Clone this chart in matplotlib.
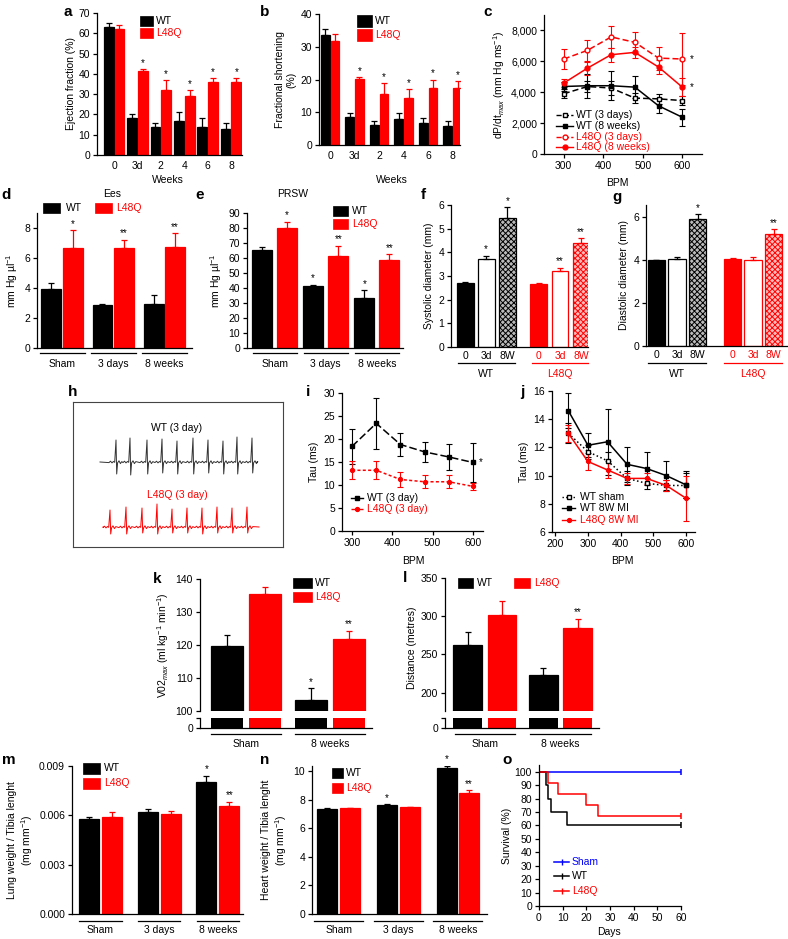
import matplotlib
matplotlib.use('Agg')
import matplotlib.pyplot as plt
from matplotlib.patches import Rectangle
from matplotlib.lines import Line2D
import matplotlib.transforms as mtransforms
import numpy as np

plt.rcParams['font.family'] = ['Liberation Sans', 'DejaVu Sans']
plt.rcParams['mathtext.fontset'] = 'custom'
plt.rcParams['mathtext.rm'] = 'Liberation Sans'
plt.rcParams['mathtext.it'] = 'Liberation Sans:italic'
plt.rcParams['font.size'] = 7.5
plt.rcParams['axes.linewidth'] = 0.9
plt.rcParams['hatch.linewidth'] = 0.7

RED = '#ff0000'
BLUE = '#0000ff'

# ---------------- data ----------------
# a / b
week_labels = ['0', '3d', '2', '4', '6', '8']
ef_wt = [63, 18, 14, 17, 14, 13]
ef_wt_sem = [2, 2, 2, 4, 4, 3]
ef_l48q = [62, 41.3, 32, 29, 36, 36]
ef_l48q_sem = [2, 1.2, 5, 3, 2, 2]
ef_stars = ['', '*', '*', '*', '*', '*']

fs_wt = [33.5, 8.5, 6.2, 7.8, 6.6, 5.8]
fs_wt_sem = [2.0, 1.2, 1.0, 1.9, 1.6, 1.4]
fs_l48q = [31.8, 20.2, 15.7, 14.4, 17.4, 17.4]
fs_l48q_sem = [2.2, 0.5, 3.3, 2.6, 2.6, 2.0]

# c
bpm_c = [300, 360, 420, 480, 540, 600]
dp_wt3d = [3900, 4370, 4270, 3620, 3570, 3460]
dp_wt3d_err = [300, 350, 450, 350, 330, 300]
dp_wt8w = [4370, 4420, 4420, 4330, 3120, 2380]
dp_wt8w_err = [300, 780, 950, 720, 480, 550]
dp_l3d = [6150, 6710, 7580, 7230, 6210, 6150]
dp_l3d_err = [620, 700, 700, 700, 750, 1700]
dp_l8w = [4590, 5560, 6430, 6580, 5630, 4330]
dp_l8w_err = [250, 420, 450, 380, 480, 600]

# d / e
group3 = ['Sham', '3 days', '8 weeks']
ees_wt = [3.9, 2.85, 2.9]
ees_wt_sem = [0.45, 0.05, 0.65]
ees_l48q = [6.65, 6.7, 6.75]
ees_l48q_sem = [1.2, 0.5, 0.9]
ees_stars = ['*', '**', '**']
prsw_wt = [65.5, 41, 33.5]
prsw_wt_sem = [1.5, 1.0, 5.0]
prsw_l48q = [80, 61, 58.5]
prsw_l48q_sem = [4, 7, 4]
prsw_wt_stars = ['', '*', '*']
prsw_l48q_stars = ['*', '**', '**']

# f / g
fg_labels = ['0', '3d', '8W']
sys_wt = [2.7, 3.72, 5.45]
sys_wt_sem = [0.04, 0.13, 0.45]
sys_l48q = [2.68, 3.2, 4.4]
sys_l48q_sem = [0.03, 0.15, 0.2]
sys_wt_stars = ['', '*', '*']
sys_l48q_stars = ['', '**', '**']
dia_wt = [3.98, 4.02, 5.92]
dia_wt_sem = [0.03, 0.13, 0.2]
dia_l48q = [4.05, 3.98, 5.22]
dia_l48q_sem = [0.03, 0.17, 0.2]
dia_wt_stars = ['', '', '*']
dia_l48q_stars = ['', '', '**']

# h (ECG spike times / amplitudes, pixel units inside the panel)
ecg_wt_beats = [116, 130, 147, 162, 177, 193, 208, 223, 237, 252]
ecg_wt_up = [22, 24, 22, 23, 21, 24, 22, 21, 25, 24]
ecg_wt_down = [12, 13, 12, 11, 12, 12, 11, 12, 12, 11]
ecg_l_beats = [110, 126, 142, 157, 172, 187, 202, 217, 232, 247]
ecg_l_up = [17, 20, 19, 23, 18, 19, 19, 20, 19, 20]
ecg_l_down = [7, 7, 6, 7, 6, 6, 7, 6, 6, 6]

# i
bpm_i = [300, 360, 420, 480, 540, 600]
tau_wt = [18.4, 23.4, 18.8, 17.2, 16.1, 14.9]
tau_wt_err = [3.8, 5.5, 2.4, 2.2, 2.8, 4.3]
tau_l = [13.2, 13.2, 11.2, 10.7, 10.7, 9.7]
tau_l_err = [2.0, 2.0, 1.6, 1.4, 1.4, 0.8]

# j
bpm_j = [240, 300, 360, 420, 480, 540, 600]
tj_sham = [13.0, 11.7, 11.05, 9.8, 9.45, 9.3, 9.3]
tj_sham_err = [0.7, 0.5, 0.6, 0.5, 0.4, 0.4, 0.9]
tj_wt8 = [14.6, 12.15, 12.4, 10.8, 10.5, 10.0, 9.35]
tj_wt8_err = [1.25, 0.85, 2.35, 1.25, 1.15, 1.0, 0.95]
tj_l8 = [13.0, 11.0, 10.4, 9.8, 9.8, 9.3, 8.4]
tj_l8_err = [0.6, 0.6, 0.6, 0.4, 0.4, 0.4, 1.6]

# k / l
group2 = ['Sham', '8 weeks']
vo2_wt = [119.7, 103.3]
vo2_wt_sem = [3.2, 3.6]
vo2_l48q = [135.5, 121.7]
vo2_l48q_sem = [2.1, 2.5]
dist_wt = [262, 222.8]
dist_wt_sem = [17, 9.7]
dist_l48q = [301, 284.5]
dist_l48q_sem = [18.7, 11.9]

# m / n
lung_wt = [0.00575, 0.0062, 0.0080]
lung_wt_sem = [0.00013, 0.0002, 0.0004]
lung_l48q = [0.0059, 0.0061, 0.00655]
lung_l48q_sem = [0.0003, 0.00015, 0.00025]
heart_wt = [7.35, 7.6, 10.2]
heart_wt_sem = [0.03, 0.06, 0.18]
heart_l48q = [7.4, 7.45, 8.45]
heart_l48q_sem = [0.03, 0.04, 0.22]

# o
sham_days = [0, 60]
sham_surv = [100, 100]
wt_days = [0, 3, 4, 5, 12, 60]
wt_surv = [100, 90, 80, 70, 60, 60]
l48q_days = [0, 4, 8, 20, 25, 60]
l48q_surv = [100, 91.7, 83.3, 75.0, 66.7, 66.7]

# ---------------- helpers ----------------
W, H = 788, 939
fig = plt.figure(figsize=(W / 100, H / 100), dpi=100)


def px_ax(l, t, r, b):
    return fig.add_axes([l / W, 1 - b / H, (r - l) / W, (b - t) / H])


def style(ax):
    for s in ['top', 'right']:
        ax.spines[s].set_visible(False)
    ax.tick_params(direction='out', length=3, width=0.9, pad=2, labelsize=7.5)


def ftext(x, y, s, **kw):
    kw.setdefault('ha', 'center')
    kw.setdefault('va', 'center')
    fig.text(x / W, 1 - y / H, s, **kw)


def letter(x, y, s):
    ftext(x, y, s, fontsize=11, fontweight='bold')


def bars(ax, x, vals, sems, color, width, ecolor=None, **kw):
    kw.setdefault('edgecolor', color)
    ax.bar(x, vals, width, color=color, lw=0.9, **kw)
    ax.errorbar(x, vals, yerr=[np.zeros(len(vals)), sems], fmt='none',
                ecolor=ecolor or color, elinewidth=0.9, capsize=2.2, capthick=0.9)


def stars(ax, x, vals, sems, marks, dy):
    for xi, v, s, m in zip(x, vals, sems, marks):
        if m:
            ax.text(xi, v + s + dy, m, ha='center', va='bottom', fontsize=7)


def group_lines(ax, centers, half, labels, yl, yt, colors=None):
    trans = mtransforms.blended_transform_factory(ax.transData, fig.transFigure)
    for i, (c, lab) in enumerate(zip(centers, labels)):
        col = colors[i] if colors else 'k'
        ax.plot([c - half, c + half], [1 - yl / H] * 2, transform=trans,
                color=col, lw=0.9, clip_on=False)
        ax.text(c, 1 - yt / H, lab, transform=trans, ha='center', va='center',
                fontsize=7.5, color=col)


def box_leg(x, y, w, h, color, label, tx=None, tcolor=None):
    fig.add_artist(Rectangle((x / W, 1 - (y + h / 2) / H), w / W, h / H,
                             transform=fig.transFigure, facecolor=color,
                             edgecolor=color, lw=0.5))
    ftext(tx if tx else x + w + 3, y, label, ha='left', color=tcolor or color)


def line_leg(x0, x1, y, label, tx, color='k', lw=1, ls='-', marker=None, ms=3.5,
             mfc=None, mew=1.0):
    fig.add_artist(Line2D([x0 / W, x1 / W], [1 - y / H] * 2, transform=fig.transFigure,
                          color=color, lw=lw, ls=ls))
    if marker:
        fig.add_artist(Line2D([(x0 + x1) / 2 / W], [1 - y / H], transform=fig.transFigure,
                              ls='none', marker=marker, ms=ms, color=color,
                              mfc=mfc if mfc else color, mec=color, mew=mew))
    ftext(tx, y, label, ha='left', color=color)


# ---------------- panel a ----------------
ax = px_ax(97, 13, 242, 155)
style(ax)
x = np.arange(len(week_labels))
bars(ax, x - 0.23, ef_wt, ef_wt_sem, 'k', 0.42)
bars(ax, x + 0.23, ef_l48q, ef_l48q_sem, RED, 0.42)
stars(ax, x + 0.23, ef_l48q, ef_l48q_sem, ef_stars, 0.5)
ax.set_ylim(0, 70)
ax.set_yticks(range(0, 71, 10))
ax.set_xticks(x, week_labels)
ax.tick_params(axis='x', length=0, pad=4)
ax.set_xlim(-0.73, 5.47)
ax.set_ylabel('Ejection fraction (%)', labelpad=2)
ftext(168, 180, 'Weeks')
box_leg(140, 21, 13, 10, 'k', 'WT')
box_leg(140, 33, 13, 10, RED, 'L48Q')
letter(68, 12, 'a')

# ---------------- panel b ----------------
ax = px_ax(319, 14, 460, 145)
style(ax)
bars(ax, x - 0.2, fs_wt, fs_wt_sem, 'k', 0.36)
bars(ax, x + 0.2, fs_l48q, fs_l48q_sem, RED, 0.36)
stars(ax, x + 0.2, fs_l48q, fs_l48q_sem, ef_stars, 0.3)
ax.set_ylim(0, 40)
ax.set_yticks(range(0, 41, 10))
ax.set_xticks(x, week_labels)
ax.tick_params(axis='x', length=0, pad=4)
ax.set_xlim(-0.45, 5.3)
ax.set_ylabel('Fractional shortening\n(%)', labelpad=3)
ftext(392, 180, 'Weeks')
box_leg(357, 21, 15, 11, 'k', 'WT')
box_leg(357, 35, 15, 11, RED, 'L48Q')
letter(265, 12, 'b')

# ---------------- panel c ----------------
ax = px_ax(544, 15, 702, 154)
style(ax)
ekw = dict(capsize=2.2, elinewidth=0.8, capthick=0.8, lw=1.1)
ax.errorbar(bpm_c, dp_wt3d, yerr=dp_wt3d_err, color='k', ls='--', dashes=(4, 2),
            marker='s', ms=3.5, mfc='white', **ekw)
ax.errorbar(bpm_c, dp_wt8w, yerr=dp_wt8w_err, color='k', ls='-',
            marker='s', ms=3.5, **ekw)
ax.errorbar(bpm_c, dp_l3d, yerr=dp_l3d_err, color=RED, ls='--', dashes=(4, 2),
            marker='o', ms=3.5, mfc='white', **ekw)
ax.errorbar(bpm_c, dp_l8w, yerr=dp_l8w_err, color=RED, ls='-',
            marker='o', ms=3.5, **ekw)
ax.text(625, dp_l3d[-1], '*', ha='center', va='center', fontsize=7)
ax.text(625, dp_l8w[-1], '*', ha='center', va='center', fontsize=7)
ax.set_xlim(250, 650)
ax.set_ylim(0, 9000)
ax.set_xticks([300, 400, 500, 600])
ax.set_yticks([0, 2000, 4000, 6000, 8000], ['0', '2,000', '4,000', '6,000', '8,000'])
ax.set_ylabel('dP/dt$_{max}$ (mm Hg ms$^{-1}$)', labelpad=3)
ftext(617, 183, 'BPM')
line_leg(556, 573, 115, 'WT (3 days)', 576, color='k', ls='--', marker='s', mfc='white')
line_leg(556, 573, 126, 'WT (8 weeks)', 576, color='k', marker='s')
line_leg(556, 573, 137, 'L48Q (3 days)', 576, color=RED, ls='--', marker='o', mfc='white')
line_leg(556, 573, 147, 'L48Q (8 weeks)', 576, color=RED, marker='o')
letter(488, 12, 'c')

# ---------------- panel d ----------------
x3 = np.arange(3)
ax = px_ax(37, 213, 192, 348)
style(ax)
bars(ax, x3 - 0.21, ees_wt, ees_wt_sem, 'k', 0.39)
bars(ax, x3 + 0.21, ees_l48q, ees_l48q_sem, RED, 0.39)
stars(ax, x3 + 0.21, ees_l48q, ees_l48q_sem, ees_stars, 0.1)
ax.set_ylim(0, 9)
ax.set_yticks([0, 2, 4, 6, 8])
ax.set_xticks([])
ax.set_xlim(-0.49, 2.54)
ax.set_ylabel('mm Hg µl$^{-1}$', labelpad=3)
group_lines(ax, x3, 0.44, group3, 353, 364)
ftext(112, 194, 'Ees')
box_leg(43, 208, 17, 10, 'k', 'WT', tx=66)
box_leg(95, 208, 17, 10, RED, 'L48Q', tx=116)
letter(6, 195, 'd')

# ---------------- panel e ----------------
ax = px_ax(247, 213, 403, 348)
style(ax)
bars(ax, x3 - 0.245, prsw_wt, prsw_wt_sem, 'k', 0.39)
bars(ax, x3 + 0.245, prsw_l48q, prsw_l48q_sem, RED, 0.39)
stars(ax, x3 - 0.245, prsw_wt, prsw_wt_sem, prsw_wt_stars, 1)
stars(ax, x3 + 0.245, prsw_l48q, prsw_l48q_sem, prsw_l48q_stars, 1)
ax.set_ylim(0, 90)
ax.set_yticks(range(0, 91, 10))
ax.set_xticks([])
ax.set_xlim(-0.54, 2.51)
ax.set_ylabel('mm Hg µl$^{-1}$', labelpad=3)
group_lines(ax, x3, 0.43, group3, 353, 364)
ftext(293, 194, 'PRSW')
box_leg(333, 211, 15, 10, 'k', 'WT', tx=352)
box_leg(333, 224, 15, 10, RED, 'L48Q', tx=352)
letter(200, 195, 'e')


# ---------------- panels f, g ----------------
def diam_panel(box, wt, wt_sem, lq, lq_sem, wt_st, lq_st, pos_wt, pos_lq, ylim, yticks,
               ylabel, xlim, width):
    ax = px_ax(*box)
    style(ax)
    bars(ax, [pos_wt[0]], [wt[0]], [wt_sem[0]], 'k', width)
    bars(ax, [pos_lq[0]], [lq[0]], [lq_sem[0]], RED, width)
    bars(ax, [pos_wt[1]], [wt[1]], [wt_sem[1]], 'white', width, ecolor='k', edgecolor='k')
    bars(ax, [pos_lq[1]], [lq[1]], [lq_sem[1]], 'white', width, ecolor=RED, edgecolor=RED)
    bars(ax, [pos_wt[2]], [wt[2]], [wt_sem[2]], '#bbbbbb', width, ecolor='k', edgecolor='k',
         hatch='xxxxxx')
    bars(ax, [pos_lq[2]], [lq[2]], [lq_sem[2]], '#ffbbbb', width, ecolor=RED, edgecolor=RED,
         hatch='xxxxxx')
    stars(ax, pos_wt, wt, wt_sem, wt_st, ylim[1] * 0.01)
    stars(ax, pos_lq, lq, lq_sem, lq_st, ylim[1] * 0.01)
    ax.set_ylim(*ylim)
    ax.set_yticks(yticks)
    ax.set_xlim(*xlim)
    ax.set_xticks(list(pos_wt) + list(pos_lq), fg_labels + fg_labels)
    for i, t in enumerate(ax.get_xticklabels()):
        t.set_color('k' if i < 3 else RED)
    ax.tick_params(axis='x', length=0, pad=3)
    ax.set_ylabel(ylabel, labelpad=3)
    return ax


pos_f_wt = np.array([0, 1, 2])
pos_f_lq = np.array([3.5, 4.5, 5.5])
ax = diam_panel((451, 205, 588, 347), sys_wt, sys_wt_sem, sys_l48q, sys_l48q_sem,
                sys_wt_stars, sys_l48q_stars, pos_f_wt, pos_f_lq, (0, 6), range(0, 7),
                'Systolic diameter (mm)', (-0.67, 5.83), 0.8)
group_lines(ax, [1, 4.5], 1.35, ['WT', 'L48Q'], 363, 374, colors=['k', RED])
letter(423, 195, 'f')

pos_g_wt = np.array([0, 1, 2])
pos_g_lq = np.array([3.7, 4.7, 5.7])
ax = diam_panel((646, 205, 788, 346), dia_wt, dia_wt_sem, dia_l48q, dia_l48q_sem,
                dia_wt_stars, dia_l48q_stars, pos_g_wt, pos_g_lq, (0, 6.55), [0, 2, 4, 6],
                'Diastolic diameter (mm)', (-0.51, 6.4), 0.85)
group_lines(ax, [1, 4.7], 1.4, ['WT', 'L48Q'], 363, 374, colors=['k', RED])
letter(617, 197, 'g')

# ---------------- panel h ----------------
ax = px_ax(73, 402, 283, 547)
ax.set_xticks([])
ax.set_yticks([])
for s in ax.spines.values():
    s.set_color('#444444')
    s.set_linewidth(0.8)
ax.set_xlim(73, 283)
ax.set_ylim(547, 402)
ECG_PRE = [(-7, 0.6), (-5.5, -0.8), (-4, 0.9), (-2.6, -0.5), (-1.3, 0.3)]
ECG_POST = [(1.6, 0.8), (3.0, -1.2), (4.4, 1.6), (5.8, -0.4)]


def ecg(beats, ups, downs, base, x0, x1, color):
    xs, ys = [x0], [base]
    for b, u, d in zip(beats, ups, downs):
        for dx, dy in ECG_PRE:
            xs.append(b + dx)
            ys.append(base + dy)
        xs += [b, b + 0.7]
        ys += [base - u, base + d]
        for dx, dy in ECG_POST:
            xs.append(b + dx)
            ys.append(base + dy)
    xs.append(x1)
    ys.append(base)
    ax.plot(xs, ys, color=color, lw=0.7)


ecg(ecg_wt_beats, ecg_wt_up, ecg_wt_down, 462, 100, 257, '#333333')
ecg(ecg_l_beats, ecg_l_up, ecg_l_down, 527, 103, 259, RED)
ftext(177, 428, 'WT (3 day)')
ftext(177, 495, 'L48Q (3 day)', color=RED)
letter(73, 392, 'h')

# ---------------- panel i ----------------
ax = px_ax(342, 393, 483, 531)
style(ax)
ax.errorbar(bpm_i, tau_wt, yerr=tau_wt_err, color='k', ls='--', dashes=(5, 2),
            marker='s', ms=3.5, **ekw)
ax.errorbar(bpm_i, tau_l, yerr=tau_l_err, color=RED, ls='--', dashes=(2, 1.5),
            marker='o', ms=2.8, **ekw)
ax.text(620, tau_wt[-1], '*', ha='center', va='center', fontsize=7)
ax.set_xlim(275, 625)
ax.set_ylim(0, 30)
ax.set_xticks([300, 400, 500, 600])
ax.set_yticks(range(0, 31, 5))
ax.set_ylabel('Tau (ms)', labelpad=3)
ftext(413, 561, 'BPM')
line_leg(351, 363, 498, 'WT (3 day)', 367, color='k', marker='s', ms=3)
line_leg(351, 363, 509, 'L48Q (3 day)', 367, color=RED, ls='--', marker='o', ms=2.8)
letter(308, 392, 'i')

# ---------------- panel j ----------------
ax = px_ax(552, 391, 695, 532)
style(ax)
ax.errorbar(bpm_j, tj_sham, yerr=tj_sham_err, color='k', ls=':', marker='s', ms=3.5,
            mfc='white', **ekw)
ax.errorbar(bpm_j, tj_wt8, yerr=tj_wt8_err, color='k', ls='-', marker='s', ms=3.5, **ekw)
ax.errorbar(bpm_j, tj_l8, yerr=tj_l8_err, color=RED, ls='-', marker='o', ms=2.8, **ekw)
ax.set_xlim(190, 628)
ax.set_ylim(6, 16)
ax.set_xticks(range(200, 601, 100))
ax.set_yticks(range(6, 17, 2))
ax.set_ylabel('Tau (ms)', labelpad=3)
ftext(622, 561, 'BPM')
line_leg(562, 575, 497, 'WT sham', 580, color='k', ls=':', marker='s', ms=3, mfc='white')
line_leg(562, 575, 508, 'WT 8W MI', 580, color='k', marker='s', ms=3)
line_leg(562, 575, 520, 'L48Q 8W MI', 580, color=RED, marker='o', ms=2.8)
letter(522, 392, 'j')


# ---------------- panels k, l (broken axes) ----------------
def broken_panel(box_top, box_bot, wt, wt_sem, lq, lq_sem, ylim, yticks, xlim, off, width,
                 wt_st, lq_st, dy):
    axt = px_ax(*box_top)
    style(axt)
    axt.spines['bottom'].set_visible(False)
    x2 = np.arange(2)
    bars(axt, x2 - off, wt, wt_sem, 'k', width)
    bars(axt, x2 + off, lq, lq_sem, RED, width)
    stars(axt, x2 - off, wt, wt_sem, wt_st, dy)
    stars(axt, x2 + off, lq, lq_sem, lq_st, dy)
    axt.set_ylim(*ylim)
    axt.set_yticks(yticks)
    axt.set_xticks([])
    axt.set_xlim(*xlim)
    axb = px_ax(*box_bot)
    style(axb)
    axb.bar(x2 - off, wt, width, color='k')
    axb.bar(x2 + off, lq, width, color=RED)
    axb.set_ylim(0, 10)
    axb.set_yticks([0, 10], ['0', ''])
    axb.set_xticks([])
    axb.set_xlim(*xlim)
    return axt, axb


axt, axb = broken_panel((200, 579, 372, 711), (200, 718, 372, 728), vo2_wt, vo2_wt_sem,
                        vo2_l48q, vo2_l48q_sem, (100, 140), [100, 110, 120, 130, 140],
                        (-0.548, 1.5), 0.226, 0.38, ['', '*'], ['', '**'], 0.5)
group_lines(axb, [0, 1], 0.42, group2, 734, 744)
ftext(163, 645, 'V02$_{max}$ (ml kg$^{-1}$ min$^{-1}$)', rotation=90)
box_leg(293, 583, 19, 10, 'k', 'WT')
box_leg(293, 597, 19, 10, RED, 'L48Q')
letter(157, 579, 'k')

axt, axb = broken_panel((445, 578, 599, 711), (445, 718, 599, 728), dist_wt, dist_wt_sem,
                        dist_l48q, dist_l48q_sem, (176, 350), [200, 250, 300, 350],
                        (-0.526, 1.51), 0.227, 0.38, ['', ''], ['', '**'], 2)
group_lines(axb, [0, 1], 0.4, group2, 734, 744)
ftext(412, 648, 'Distance (metres)', rotation=90)
box_leg(458, 583, 15, 10, 'k', 'WT', tx=477)
box_leg(514, 583, 16, 10, RED, 'L48Q', tx=534)
letter(405, 578, 'l')

# ---------------- panel m ----------------
ax = px_ax(72, 766, 243, 914)
style(ax)
bars(ax, x3 - 0.196, lung_wt, lung_wt_sem, 'k', 0.34)
bars(ax, x3 + 0.196, lung_l48q, lung_l48q_sem, RED, 0.34)
stars(ax, x3 - 0.196, lung_wt, lung_wt_sem, ['', '', '*'], 0.0001)
stars(ax, x3 + 0.196, lung_l48q, lung_l48q_sem, ['', '', '**'], 0.0001)
ax.set_ylim(0, 0.009)
ax.set_yticks([0, 0.003, 0.006, 0.009], ['0.000', '0.003', '0.006', '0.009'])
ax.set_xticks([])
ax.set_xlim(-0.485, 2.43)
ax.set_ylabel('Lung weight / Tibia lenght\n(mg mm$^{-1}$)', labelpad=3)
group_lines(ax, x3, 0.36, group3, 921, 930)
box_leg(83, 768, 17, 11, 'k', 'WT', tx=104)
box_leg(83, 783, 17, 11, RED, 'L48Q', tx=104)
letter(9, 760, 'm')

# ---------------- panel n ----------------
ax = px_ax(312, 766, 487, 914)
style(ax)
bars(ax, x3 - 0.19, heart_wt, heart_wt_sem, 'k', 0.336)
bars(ax, x3 + 0.19, heart_l48q, heart_l48q_sem, RED, 0.336)
stars(ax, x3 - 0.19, heart_wt, heart_wt_sem, ['', '*', '*'], 0.1)
stars(ax, x3 + 0.19, heart_l48q, heart_l48q_sem, ['', '', '**'], 0.1)
ax.set_ylim(0, 10.35)
ax.set_yticks(range(0, 11, 2))
ax.set_xticks([])
ax.set_xlim(-0.45, 2.49)
ax.set_ylabel('Heart weight / Tibia lenght\n(mg mm$^{-1}$)', labelpad=3)
group_lines(ax, x3, 0.41, group3, 921, 930)
box_leg(332, 773, 11, 10, 'k', 'WT', tx=346)
box_leg(332, 788, 11, 10, RED, 'L48Q', tx=346)
letter(265, 760, 'n')

# ---------------- panel o ----------------
ax = px_ax(539, 765, 681, 906)
style(ax)
ax.step(sham_days, sham_surv, where='post', color=BLUE, lw=1.1)
ax.step(wt_days, wt_surv, where='post', color='k', lw=1.1)
ax.step(l48q_days, l48q_surv, where='post', color=RED, lw=1.1)
for d, s, c in [(sham_days, sham_surv, BLUE), (wt_days, wt_surv, 'k'), (l48q_days, l48q_surv, RED)]:
    ax.plot([d[-1]], [s[-1]], marker='|', ms=5, mew=1.1, color=c, clip_on=False)
ax.set_xlim(0, 60)
ax.set_ylim(0, 105)
ax.set_xticks(range(0, 61, 10))
ax.set_yticks(range(0, 101, 10))
ax.set_ylabel('Survival (%)', labelpad=2)
ftext(609, 932, 'Days')
line_leg(554, 569, 862, 'Sham', 572, color=BLUE, lw=1.1, marker='|', ms=5)
line_leg(554, 569, 876, 'WT', 572, color='k', lw=1.1, marker='|', ms=5)
line_leg(554, 569, 891, 'L48Q', 572, color=RED, lw=1.1, marker='|', ms=5)
letter(507, 760, 'o')

fig.savefig('out.png', dpi=100)
